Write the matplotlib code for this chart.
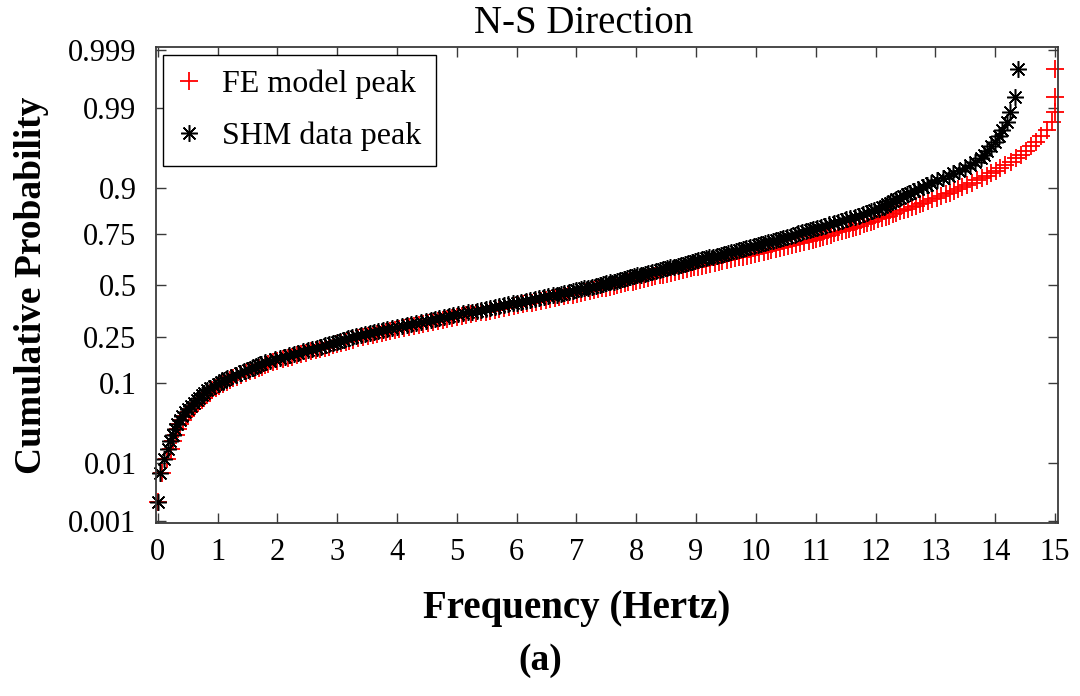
import statistics
import matplotlib
matplotlib.use("Agg")
import matplotlib.pyplot as plt

# sorted peak frequencies (Hz)
fe_peak = [
    0.00, 0.07, 0.16, 0.22, 0.26, 0.30, 0.34, 0.38, 0.43, 0.47,
    0.52, 0.58, 0.63, 0.68, 0.74, 0.78, 0.83, 0.87, 0.91, 0.97,
    1.03, 1.09, 1.15, 1.20, 1.25, 1.32, 1.40, 1.48, 1.55, 1.62,
    1.69, 1.75, 1.80, 1.85, 1.92, 2.00, 2.09, 2.17, 2.25, 2.32,
    2.40, 2.48, 2.56, 2.64, 2.71, 2.79, 2.86, 2.93, 3.00, 3.07,
    3.14, 3.20, 3.27, 3.35, 3.43, 3.51, 3.60, 3.67, 3.75, 3.82,
    3.89, 3.96, 4.04, 4.12, 4.20, 4.28, 4.36, 4.44, 4.52, 4.60,
    4.68, 4.77, 4.84, 4.92, 5.00, 5.09, 5.16, 5.24, 5.32, 5.40,
    5.48, 5.56, 5.64, 5.71, 5.79, 5.87, 5.95, 6.03, 6.10, 6.18,
    6.26, 6.33, 6.41, 6.49, 6.56, 6.64, 6.71, 6.79, 6.86, 6.94,
    7.01, 7.08, 7.15, 7.22, 7.29, 7.36, 7.42, 7.49, 7.56, 7.62,
    7.68, 7.74, 7.81, 7.87, 7.94, 8.00, 8.07, 8.13, 8.20, 8.26,
    8.32, 8.39, 8.45, 8.52, 8.58, 8.65, 8.71, 8.78, 8.84, 8.91,
    8.97, 9.03, 9.10, 9.17, 9.24, 9.31, 9.38, 9.44, 9.51, 9.58,
    9.65, 9.72, 9.79, 9.85, 9.92, 9.99, 10.06, 10.13, 10.20, 10.26,
    10.33, 10.40, 10.47, 10.54, 10.61, 10.67, 10.74, 10.81, 10.88, 10.95,
    11.01, 11.07, 11.13, 11.19, 11.25, 11.31, 11.37, 11.44, 11.50, 11.56,
    11.62, 11.68, 11.74, 11.80, 11.86, 11.92, 11.98, 12.04, 12.11, 12.17,
    12.23, 12.29, 12.35, 12.41, 12.48, 12.54, 12.61, 12.67, 12.74, 12.80,
    12.87, 12.95, 13.02, 13.10, 13.17, 13.24, 13.31, 13.38, 13.45, 13.53,
    13.62, 13.70, 13.78, 13.86, 13.93, 14.01, 14.08, 14.17, 14.26, 14.35,
    14.44, 14.52, 14.60, 14.69, 14.77, 14.86, 14.95, 15.00, 15.00, 15.00,
]

shm_peak = [
    0.00, 0.03, 0.11, 0.17, 0.21, 0.25, 0.29, 0.33, 0.37, 0.41,
    0.46, 0.51, 0.55, 0.60, 0.65, 0.69, 0.74, 0.78, 0.82, 0.88,
    0.94, 1.00, 1.06, 1.11, 1.16, 1.22, 1.30, 1.37, 1.44, 1.51,
    1.58, 1.63, 1.68, 1.72, 1.79, 1.87, 1.96, 2.04, 2.12, 2.19,
    2.27, 2.35, 2.43, 2.51, 2.58, 2.66, 2.73, 2.80, 2.86, 2.93,
    2.99, 3.05, 3.11, 3.18, 3.25, 3.32, 3.40, 3.47, 3.55, 3.62,
    3.69, 3.76, 3.84, 3.92, 4.00, 4.08, 4.16, 4.24, 4.32, 4.40,
    4.48, 4.56, 4.63, 4.71, 4.79, 4.87, 4.94, 5.02, 5.10, 5.18,
    5.26, 5.33, 5.41, 5.48, 5.56, 5.64, 5.71, 5.79, 5.86, 5.94,
    6.01, 6.08, 6.16, 6.23, 6.30, 6.38, 6.45, 6.52, 6.60, 6.67,
    6.74, 6.80, 6.87, 6.94, 7.00, 7.07, 7.13, 7.20, 7.26, 7.33,
    7.39, 7.45, 7.50, 7.56, 7.62, 7.68, 7.73, 7.79, 7.84, 7.90,
    7.96, 8.02, 8.08, 8.14, 8.20, 8.26, 8.33, 8.39, 8.45, 8.51,
    8.57, 8.63, 8.69, 8.75, 8.81, 8.87, 8.93, 8.98, 9.04, 9.10,
    9.16, 9.22, 9.28, 9.35, 9.41, 9.47, 9.53, 9.59, 9.66, 9.72,
    9.78, 9.84, 9.90, 9.96, 10.03, 10.09, 10.15, 10.21, 10.28, 10.34,
    10.40, 10.46, 10.52, 10.58, 10.65, 10.71, 10.77, 10.83, 10.90, 10.96,
    11.02, 11.09, 11.16, 11.23, 11.30, 11.37, 11.44, 11.51, 11.58, 11.65,
    11.72, 11.79, 11.85, 11.92, 11.98, 12.05, 12.10, 12.15, 12.20, 12.25,
    12.30, 12.35, 12.41, 12.46, 12.52, 12.57, 12.64, 12.71, 12.79, 12.86,
    12.93, 13.02, 13.12, 13.22, 13.30, 13.40, 13.50, 13.58, 13.67, 13.76,
    13.82, 13.87, 13.93, 13.99, 14.06, 14.12, 14.19, 14.24, 14.33, 14.38,
]

prob_ticks = [0.001, 0.01, 0.1, 0.25, 0.5, 0.75, 0.9, 0.99, 0.999]
prob_labels = ['0.001', '0.01', '0.1', '0.25', '0.5', '0.75', '0.9', '0.99', '0.999']
freq_ticks = list(range(16))

nd = statistics.NormalDist()


def plotting_positions(n):
    # normplot style positions (i - 0.5)/n on the normal quantile scale
    return [nd.inv_cdf((i + 0.5) / n) for i in range(n)]


plt.rcParams['font.family'] = ['Liberation Serif', 'DejaVu Serif']

edge = '#3a3a3a'
fig = plt.figure(figsize=(10.8, 6.96), dpi=100)
ax = fig.add_axes([0.1444, 0.2486, 0.8352, 0.684])

ax.plot(sorted(fe_peak), plotting_positions(len(fe_peak)), '+', color='red',
        ms=13, mew=1.3, clip_on=False, label='FE model peak')
ax.plot(sorted(shm_peak), plotting_positions(len(shm_peak)), ls='none',
        marker=(8, 2, 0), color='black', mec='black', ms=12, mew=1.1,
        clip_on=False, label='SHM data peak')

ax.set_xlim(-0.03, 15.05)
ax.set_ylim(-3.117, 3.13)
ax.set_xticks(freq_ticks)
ax.set_xticklabels([str(t) for t in freq_ticks])
ax.set_yticks([nd.inv_cdf(p) for p in prob_ticks])
ax.set_yticklabels(prob_labels)

ax.tick_params(direction='in', length=7, width=1.0, color=edge,
               top=True, right=True, labelsize=22)
ax.tick_params(axis='x', pad=11)
ax.tick_params(axis='y', pad=14)
for sp in ax.spines.values():
    sp.set_color(edge)
    sp.set_linewidth(1.3)

ax.set_title('N-S Direction', fontsize=28, pad=10, x=0.474)
ax.set_xlabel('Frequency (Hertz)', fontsize=28, fontweight='bold')
ax.xaxis.set_label_coords(0.466, -0.14)
ax.set_ylabel('Cumulative Probability', fontsize=27, fontweight='bold', labelpad=14)

leg = ax.legend(loc='upper left', bbox_to_anchor=(0.0078, 0.983), fontsize=23,
                frameon=True, fancybox=False, framealpha=1, edgecolor='black',
                handlelength=0.7, handletextpad=0.7, borderpad=0.45,
                labelspacing=0.72, borderaxespad=0)
leg.get_frame().set_linewidth(1.0)

fig.text(0.5, 1 - 660 / 696, '(a)', ha='center', va='center',
         fontsize=27, fontweight='bold')

fig.savefig('out.png', dpi=100)
